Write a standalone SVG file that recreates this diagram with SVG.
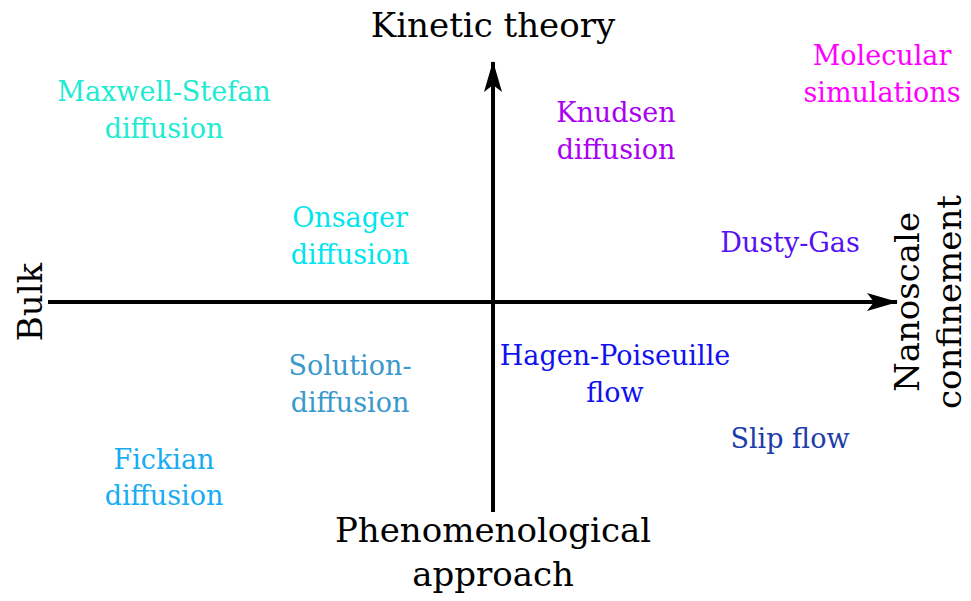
<svg xmlns="http://www.w3.org/2000/svg" width="971" height="601" viewBox="0 0 971 601">
<style>
text{font-family:"DejaVu Serif","Liberation Serif",serif;text-anchor:middle}
.lab{font-size:27px}
.ttl{font-size:34px;fill:#000}
.ax{stroke:#000;stroke-width:4;fill:none}
</style>
<defs>
<marker id="ah" viewBox="0 0 32 20" refX="30" refY="10" markerWidth="32" markerHeight="20" markerUnits="userSpaceOnUse" orient="auto">
<path d="M0,1 L31,10 L0,19 L7,10 Z" fill="#000"/>
</marker>
</defs>
<rect width="971" height="601" fill="#fff"/>
<g id="connectors">
<line class="ax" x1="48" y1="302" x2="897" y2="302" marker-end="url(#ah)"/>
<line class="ax" x1="493" y1="512" x2="493" y2="62" marker-end="url(#ah)"/>
</g>
<g id="kinetic"><text class="ttl" x="493" y="37">Kinetic theory</text></g>
<g id="phenom"><text class="ttl" x="493" y="542">Phenomenological</text><text class="ttl" x="493" y="586">approach</text></g>
<g id="bulk"><text class="ttl" transform="translate(42,302) rotate(-90)">Bulk</text></g>
<g id="nano"><text class="ttl" transform="translate(919,302) rotate(-90)">Nanoscale</text><text class="ttl" transform="translate(961,302) rotate(-90)">confinement</text></g>
<g id="maxwell"><text class="lab" fill="#20EBD2" x="164" y="101">Maxwell-Stefan</text><text class="lab" fill="#20EBD2" x="164" y="138">diffusion</text></g>
<g id="knudsen"><text class="lab" fill="#AA00F2" x="616" y="122">Knudsen</text><text class="lab" fill="#AA00F2" x="616" y="159">diffusion</text></g>
<g id="molecular"><text class="lab" fill="#FF00FF" x="882" y="65">Molecular</text><text class="lab" fill="#FF00FF" x="882" y="102">simulations</text></g>
<g id="onsager"><text class="lab" fill="#00E5EE" x="350" y="227">Onsager</text><text class="lab" fill="#00E5EE" x="350" y="264">diffusion</text></g>
<g id="dusty"><text class="lab" fill="#5511F5" x="790" y="252">Dusty-Gas</text></g>
<g id="solution"><text class="lab" fill="#3A98CC" x="350" y="375">Solution-</text><text class="lab" fill="#3A98CC" x="350" y="412">diffusion</text></g>
<g id="hagen"><text class="lab" fill="#1010F0" x="615" y="365">Hagen-Poiseuille</text><text class="lab" fill="#1010F0" x="615" y="402">flow</text></g>
<g id="slip"><text class="lab" fill="#1E3CAA" x="790" y="448">Slip flow</text></g>
<g id="fickian"><text class="lab" fill="#18ACF2" x="164" y="469">Fickian</text><text class="lab" fill="#18ACF2" x="164" y="505">diffusion</text></g>
</svg>
